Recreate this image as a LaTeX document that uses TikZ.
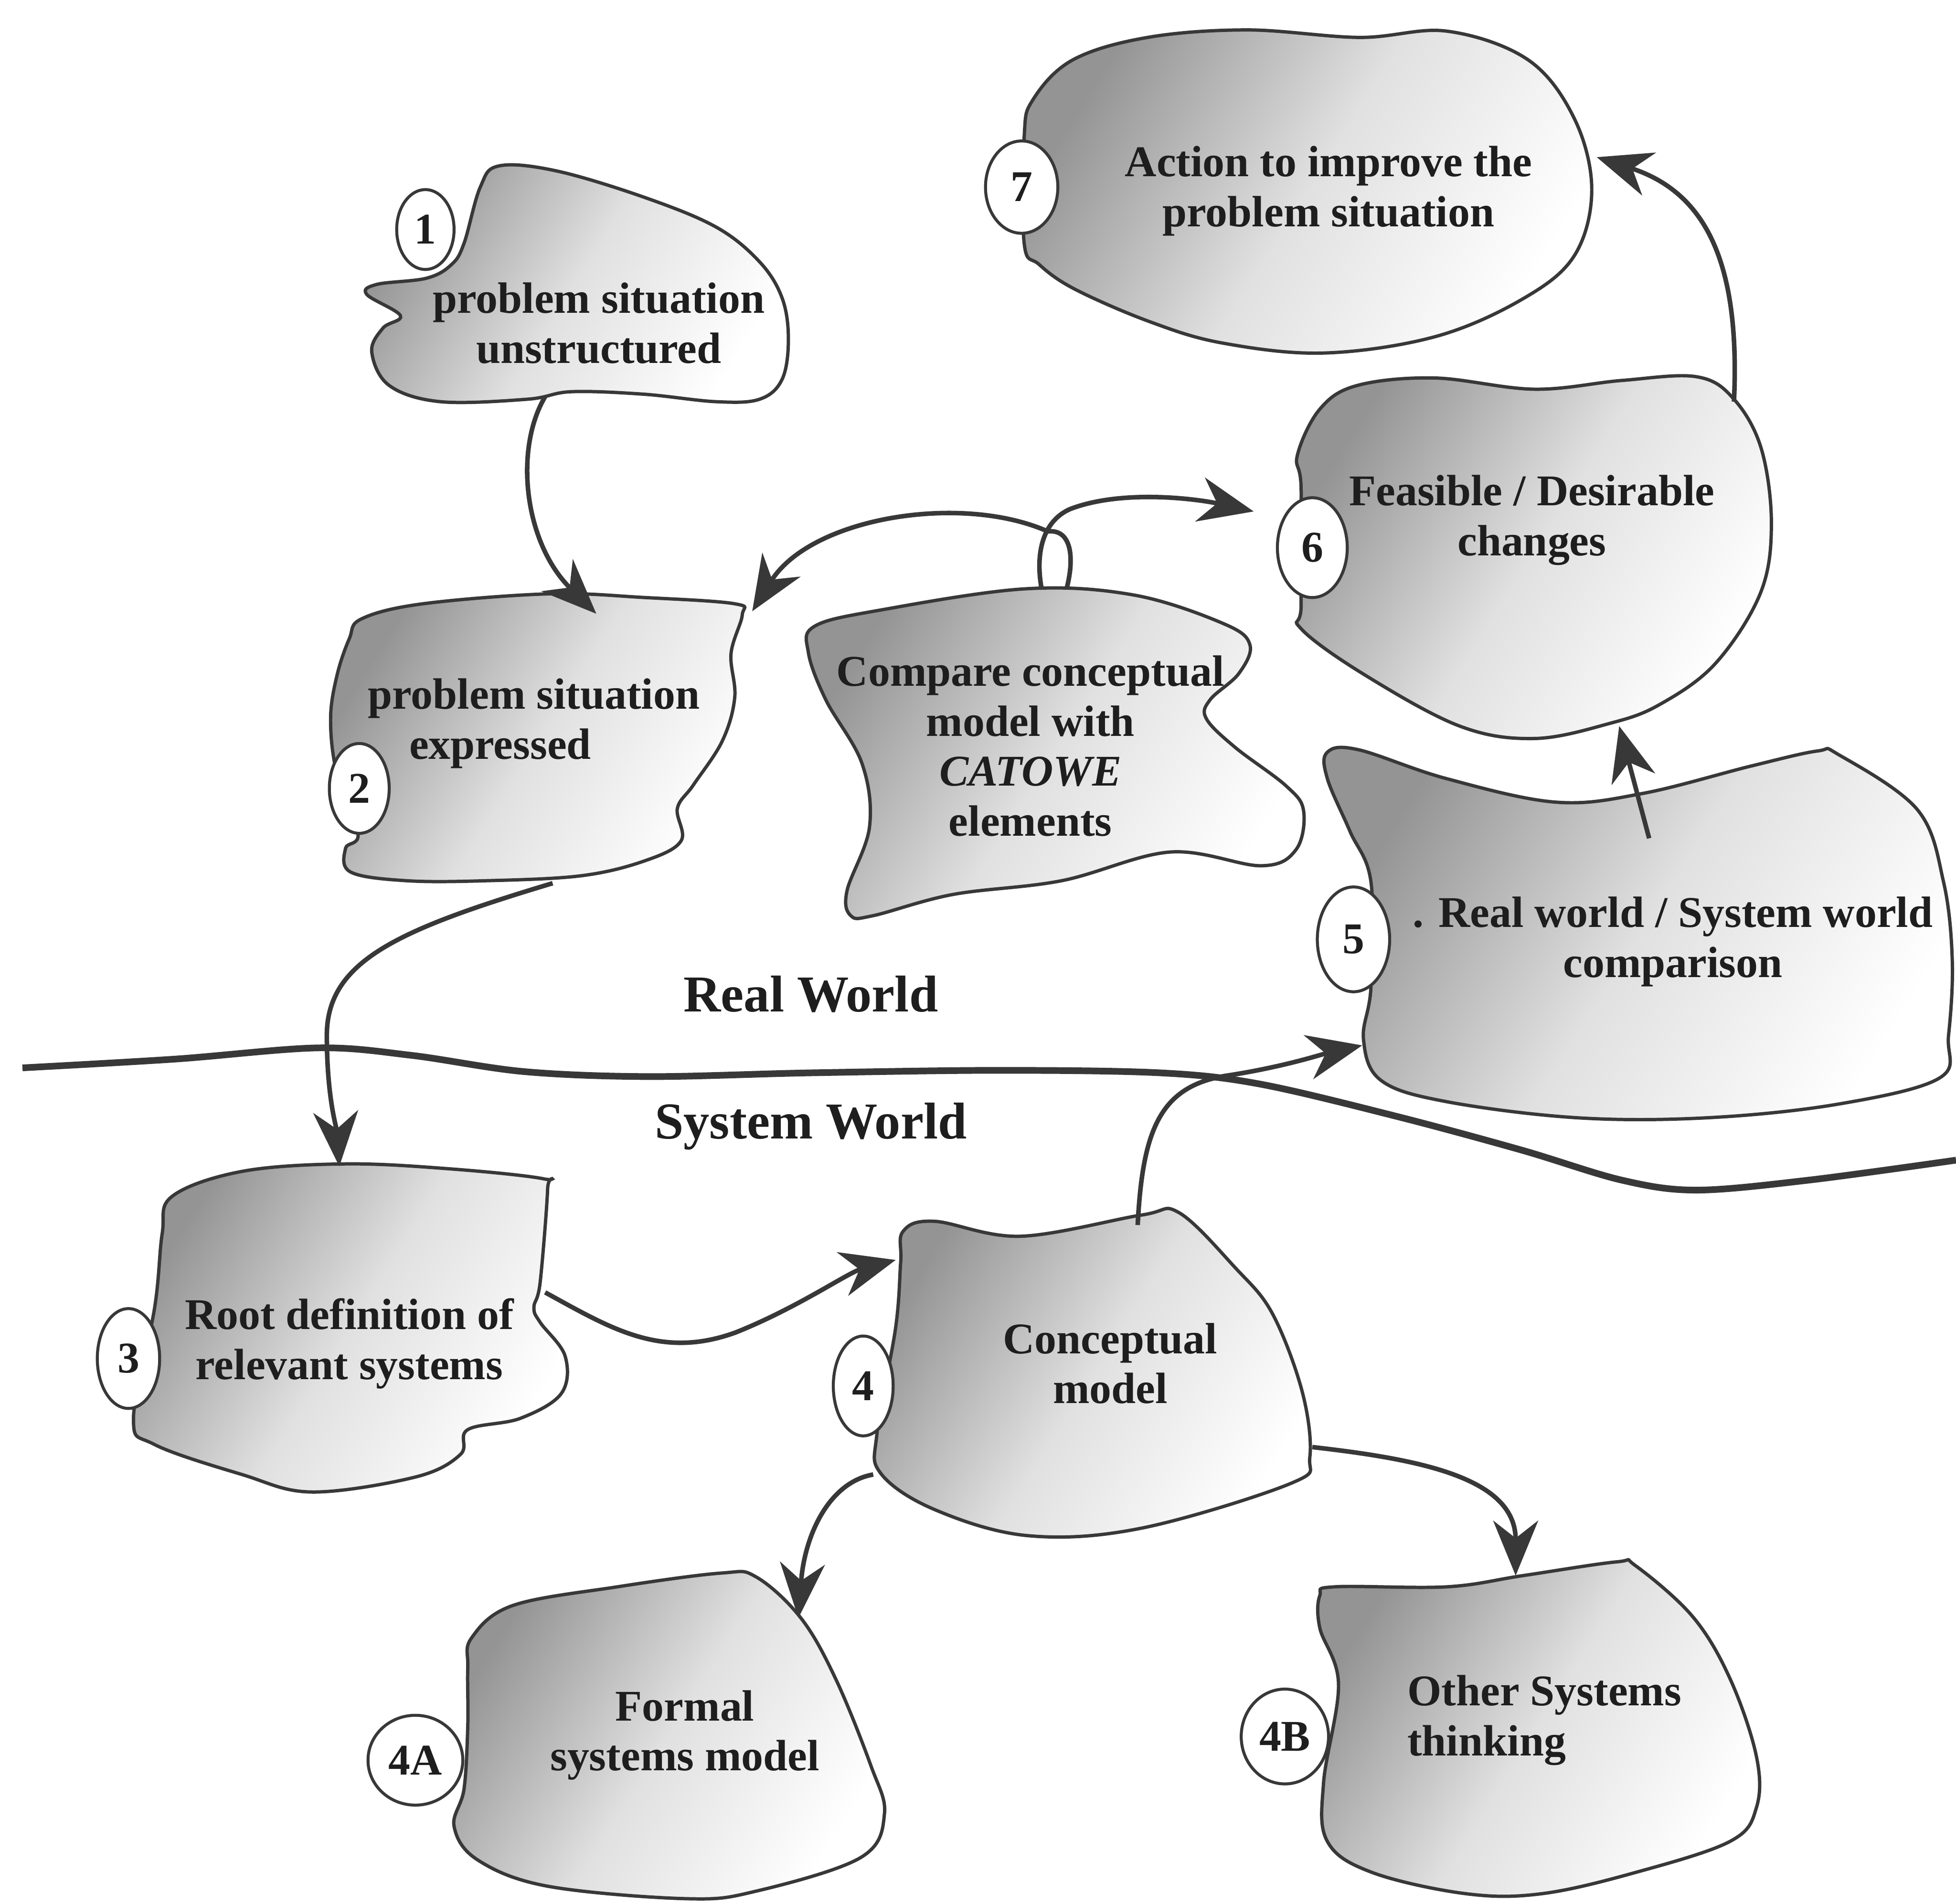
\documentclass[tikz,border=0pt]{standalone}
\usepackage{fontspec}
\setmainfont{Liberation Serif}
\usetikzlibrary{arrows.meta,shapes.geometric}
\definecolor{ink}{HTML}{383838}
\definecolor{txt}{HTML}{1E1E1E}
\begin{document}
\begin{tikzpicture}[x=0.25mm,y=-0.25mm,
 blob/.style={draw=ink, line width=1.9pt, top color=black!42, bottom color=white, middle color=black!12, shading angle=58},
 conn/.style={draw=ink, line width=2.6pt, -{Stealth[length=11mm,width=9mm,inset=3.5mm]}},
 world/.style={draw=ink, line width=3.8pt},
 numc/.style={ellipse, draw=ink, line width=1.7pt, fill=white, inner sep=0pt, text=txt, font=\bfseries\fontsize{25}{25}\selectfont},
 lbl/.style={align=center, inner sep=0pt, text=txt, font=\bfseries\fontsize{25}{28.5}\selectfont},
 big/.style={inner sep=0pt, text=txt, font=\bfseries\fontsize{29.5}{32}\selectfont}
]
\fill[white] (0,0) rectangle (1568,1526);
\useasboundingbox (0,0) rectangle (1568,1526);

% boundary between real world and system world
\draw[world] plot[smooth, tension=0.55] coordinates {(18,856) (140,849) (255,840) (330,846) (420,859) (520,863) (650,860) (800,858) (930,860) (1010,869) (1120,895) (1220,922) (1300,946) (1360,954) (1450,946) (1568,930)};

% blobs
\path[blob] plot[smooth cycle, tension=0.6] coordinates {(372,195) (385,150) (400,133) (446,137) (516,158) (574,182) (609,210) (627,239) (632,272) (627,304) (609,320) (574,322) (516,316) (458,314) (423,320) (353,322) (312,309) (298,282) (307,263) (321,253) (294,236) (302,228) (342,223) (362,212)};
\path[blob] plot[smooth cycle, tension=0.6] coordinates {(821,110) (828,80) (860,48) (920,30) (1000,24) (1090,30) (1160,25) (1225,48) (1262,95) (1276,152) (1262,205) (1220,240) (1150,270) (1061,283) (980,275) (922,258) (862,232) (833,212) (821,195)};
\path[blob] plot[smooth cycle, tension=0.6] coordinates {(280,512) (290,496) (339,484) (441,476) (517,479) (589,484) (595,493) (586,524) (589,559) (579,594) (556,629) (543,648) (546,674) (517,690) (466,702) (390,706) (326,706) (281,699) (277,680) (287,668) (270,620) (265,577) (270,542)};
\path[blob] plot[smooth cycle, tension=0.6] coordinates {(648,523) (653,502) (706,489) (822,472) (909,477) (981,500) (1002,517) (993,540) (970,561) (967,576) (990,599) (1031,630) (1045,650) (1039,681) (1011,694) (938,683) (851,706) (764,717) (700,734) (682,734) (679,714) (697,663) (691,612) (662,561)};
\path[blob] plot[smooth cycle, tension=0.6] coordinates {(1043,391) (1040,365) (1058,328) (1088,309) (1150,303) (1230,312) (1300,305) (1360,302) (1390,320) (1412,360) (1420,421) (1411,476) (1375,532) (1330,565) (1290,580) (1230,592) (1170,582) (1094,541) (1043,504) (1043,485)};
\path[blob] plot[smooth cycle, tension=0.6] coordinates {(1064,624) (1064,603) (1089,601) (1159,624) (1247,643) (1317,636) (1404,614) (1457,602) (1474,605) (1537,649) (1558,707) (1565,770) (1562,830) (1555,864) (1474,885) (1369,896) (1264,896) (1159,883) (1107,866) (1093,833) (1099,791) (1099,707) (1082,666)};
\path[blob] plot[smooth cycle, tension=0.6] coordinates {(130,989) (138,959) (194,939) (277,933) (361,937) (436,945) (439,953) (433,1028) (428,1048) (433,1060) (453,1087) (450,1117) (417,1137) (375,1146) (369,1166) (333,1184) (250,1196) (194,1182) (124,1158) (107,1137) (124,1048)};
\path[blob] plot[smooth cycle, tension=0.6] coordinates {(722,1012) (724,987) (749,979) (818,991) (915,974) (945,972) (990,1016) (1020,1053) (1044,1116) (1050,1168) (1035,1189) (915,1225) (824,1231) (749,1210) (706,1181) (703,1149) (718,1064)};
\path[blob] plot[smooth cycle, tension=0.6] coordinates {(375,1337) (378,1313) (411,1287) (495,1272) (578,1261) (606,1264) (642,1297) (670,1346) (698,1415) (709,1454) (690,1489) (606,1516) (550,1522) (439,1512) (383,1491) (364,1464) (372,1434) (375,1383)};
\path[blob] plot[smooth cycle, tension=0.6] coordinates {(1058,1305) (1058,1279) (1070,1272) (1160,1272) (1221,1263) (1296,1252) (1311,1255) (1357,1296) (1387,1346) (1408,1408) (1408,1449) (1387,1476) (1311,1501) (1236,1518) (1175,1518) (1100,1501) (1064,1476) (1061,1429) (1073,1350)};

% labels
\node[lbl] (t1) at (480,259) {problem situation\\unstructured};
\node[lbl] (t7) at (1065,153) {Action to improve the\\problem situation};
\node[lbl] (t2a) at (428,560) {problem situation};
\node[lbl] (t2b) at (401,600) {expressed};
\node[lbl] (tc) at (826,598) {Compare conceptual\\model with\\\textit{CATOWE}\\elements};
\node[lbl] (t6) at (1228,417) {Feasible / Desirable\\changes};
\node[lbl] (t5) at (1341,755) {. Real world / System world\\comparison};
\node[lbl] (t3) at (280,1077) {Root definition of\\relevant systems};
\node[lbl] (t4) at (890,1093) {Conceptual\\model};
\node[lbl] (t4a) at (549,1391) {Formal\\systems model};
\node[lbl, align=left, anchor=west] (t4b) at (1128,1379) {Other Systems\\thinking};
\node[big] (rw) at (650,797) {Real World};
\node[big] (sw) at (650,903) {System World};

% number badges
\node[numc, minimum width=11.5mm, minimum height=16mm] (c1) at (341,184) {1};
\node[numc, minimum width=14.5mm, minimum height=18.5mm] (c7) at (819,150) {7};
\node[numc, minimum width=12mm, minimum height=18mm] (c2) at (288,632) {2};
\node[numc, minimum width=14mm, minimum height=20mm] (c6) at (1052,439) {6};
\node[numc, minimum width=14.5mm, minimum height=21mm] (c5) at (1085,753) {5};
\node[numc, minimum width=12.5mm, minimum height=20mm] (c3) at (103,1089) {3};
\node[numc, minimum width=12mm, minimum height=20mm] (c4) at (692,1111) {4};
\node[numc, minimum width=19mm, minimum height=18mm] (c4a) at (333,1411) {4A};
\node[numc, minimum width=17.5mm, minimum height=19mm] (c4b) at (1030,1392) {4B};

% connector end points
\coordinate (a1s) at (437,318);  \coordinate (a1e) at (478,492);
\coordinate (a2s) at (443,708);  \coordinate (a2e) at (272,935);
\coordinate (a3s) at (437,1036); \coordinate (a3e) at (718,1010);
\coordinate (a4s) at (912,982);  \coordinate (a4e) at (1092,838);
\coordinate (a5s) at (1322,672); \coordinate (a5e) at (1298,582);
\coordinate (a6s) at (1390,322); \coordinate (a6e) at (1280,126);
\coordinate (aAs) at (855,472);  \coordinate (aAe) at (603,490);
\coordinate (aBs) at (835,472);  \coordinate (aBe) at (1005,410);
\coordinate (a8s) at (700,1182); \coordinate (a8e) at (640,1297);
\coordinate (a9s) at (1052,1160); \coordinate (a9e) at (1215,1263);

% connectors
\draw[conn] (a1s) .. controls (412,360) and (420,435) .. (a1e);
\draw[conn] (a2s) .. controls (320,745) and (262,770) .. (262,830) .. controls (262,880) and (270,905) .. (a2e);
\draw[conn] (a3s) .. controls (490,1065) and (530,1090) .. (590,1068) .. controls (640,1048) and (680,1020) .. (a3e);
\draw[conn] (a4s) .. controls (916,905) and (930,870) .. (985,862) .. controls (1030,855) and (1060,845) .. (a4e);
\draw[conn] (a5s) -- (a5e);
\draw[conn] (a6s) .. controls (1395,215) and (1370,155) .. (a6e);
\draw[conn] (aAs) .. controls (862,445) and (858,424) .. (840,426) .. controls (770,395) and (650,415) .. (aAe);
\draw[conn] (aBs) .. controls (830,445) and (835,418) .. (858,408) .. controls (900,392) and (960,400) .. (aBe);
\draw[conn] (a8s) .. controls (665,1188) and (645,1230) .. (a8e);
\draw[conn] (a9s) .. controls (1140,1170) and (1215,1185) .. (a9e);
\end{tikzpicture}
\end{document}
